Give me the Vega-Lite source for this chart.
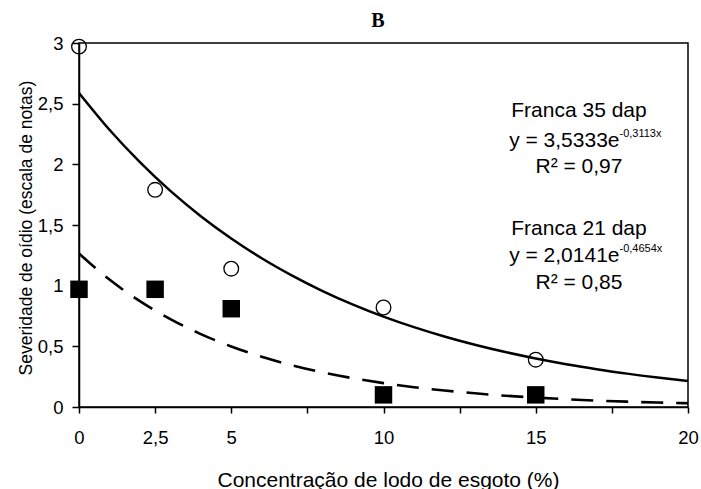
{
  "$schema": "https://vega.github.io/schema/vega-lite/v6.json",
  "width": 609,
  "height": 364,
  "autosize": {"type": "none"},
  "padding": {"left": 79, "top": 43, "right": 13, "bottom": 82},
  "background": "white",
  "config": {
    "view": {"stroke": "#000", "strokeWidth": 1.5},
    "font": "Liberation Sans",
    "axis": {"grid": false, "domainColor": "#000", "domainWidth": 1.5, "tickColor": "#000", "tickWidth": 1.5, "labelColor": "#000", "titleColor": "#000", "labelFont": "Liberation Sans", "titleFont": "Liberation Sans", "titleFontWeight": "normal"}
  },
  "datasets": {
    "pts": [
      {"conc": 0, "sev": 2.97, "serie": "35"},
      {"conc": 2.5, "sev": 1.79, "serie": "35"},
      {"conc": 5, "sev": 1.14, "serie": "35"},
      {"conc": 10, "sev": 0.82, "serie": "35"},
      {"conc": 15, "sev": 0.39, "serie": "35"},
      {"conc": 0, "sev": 0.97, "serie": "21"},
      {"conc": 2.5, "sev": 0.97, "serie": "21"},
      {"conc": 5, "sev": 0.81, "serie": "21"},
      {"conc": 10, "sev": 0.1, "serie": "21"},
      {"conc": 15, "sev": 0.1, "serie": "21"}
    ],
    "curves": [
      {"conc": 0, "sev": 2.588, "serie": "35"},
      {"conc": 1, "sev": 2.285, "serie": "35"},
      {"conc": 2, "sev": 2.018, "serie": "35"},
      {"conc": 3, "sev": 1.781, "serie": "35"},
      {"conc": 4, "sev": 1.573, "serie": "35"},
      {"conc": 5, "sev": 1.389, "serie": "35"},
      {"conc": 6, "sev": 1.226, "serie": "35"},
      {"conc": 7, "sev": 1.083, "serie": "35"},
      {"conc": 8, "sev": 0.956, "serie": "35"},
      {"conc": 9, "sev": 0.844, "serie": "35"},
      {"conc": 10, "sev": 0.745, "serie": "35"},
      {"conc": 11, "sev": 0.658, "serie": "35"},
      {"conc": 12, "sev": 0.581, "serie": "35"},
      {"conc": 13, "sev": 0.513, "serie": "35"},
      {"conc": 14, "sev": 0.453, "serie": "35"},
      {"conc": 15, "sev": 0.4, "serie": "35"},
      {"conc": 16, "sev": 0.353, "serie": "35"},
      {"conc": 17, "sev": 0.312, "serie": "35"},
      {"conc": 18, "sev": 0.275, "serie": "35"},
      {"conc": 19, "sev": 0.243, "serie": "35"},
      {"conc": 20, "sev": 0.215, "serie": "35"},
      {"conc": 0, "sev": 1.265, "serie": "21"},
      {"conc": 1, "sev": 1.05, "serie": "21"},
      {"conc": 2, "sev": 0.872, "serie": "21"},
      {"conc": 3, "sev": 0.724, "serie": "21"},
      {"conc": 4, "sev": 0.601, "serie": "21"},
      {"conc": 5, "sev": 0.499, "serie": "21"},
      {"conc": 6, "sev": 0.414, "serie": "21"},
      {"conc": 7, "sev": 0.344, "serie": "21"},
      {"conc": 8, "sev": 0.285, "serie": "21"},
      {"conc": 9, "sev": 0.237, "serie": "21"},
      {"conc": 10, "sev": 0.197, "serie": "21"},
      {"conc": 11, "sev": 0.163, "serie": "21"},
      {"conc": 12, "sev": 0.136, "serie": "21"},
      {"conc": 13, "sev": 0.113, "serie": "21"},
      {"conc": 14, "sev": 0.093, "serie": "21"},
      {"conc": 15, "sev": 0.078, "serie": "21"},
      {"conc": 16, "sev": 0.064, "serie": "21"},
      {"conc": 17, "sev": 0.053, "serie": "21"},
      {"conc": 18, "sev": 0.044, "serie": "21"},
      {"conc": 19, "sev": 0.037, "serie": "21"},
      {"conc": 20, "sev": 0.031, "serie": "21"}
    ],
    "notes": [
      {"x": 9.82, "y": 3.129, "label": "B", "kind": "t"},
      {"x": 16.42, "y": 2.393, "label": "Franca 35 dap", "kind": "c"},
      {"x": 17.75, "y": 2.143, "label": "y = 3,5333e", "kind": "r"},
      {"x": 17.75, "y": 2.225, "label": "-0,3113x", "kind": "s"},
      {"x": 16.42, "y": 1.929, "label": "R² = 0,97", "kind": "c"},
      {"x": 16.42, "y": 1.418, "label": "Franca 21 dap", "kind": "c"},
      {"x": 17.75, "y": 1.195, "label": "y = 2,0141e", "kind": "r"},
      {"x": 17.75, "y": 1.277, "label": "-0,4654x", "kind": "s"},
      {"x": 16.42, "y": 0.973, "label": "R² = 0,85", "kind": "c"}
    ]
  },
  "layer": [
    {
      "data": {"name": "curves"},
      "transform": [{"filter": "datum.serie == '35'"}],
      "mark": {"type": "line", "color": "#000", "strokeWidth": 2.5, "interpolate": "monotone"},
      "encoding": {
        "x": {"field": "conc", "type": "quantitative", "scale": {"domain": [0, 20], "nice": false},
          "axis": {"values": [0, 2.5, 5, 7.5, 10, 12.5, 15, 17.5, 20], "labelExpr": "indexof([7.5, 12.5, 17.5], datum.value) >= 0 ? '' : replace(format(datum.value, '~g'), '.', ',')", "labelFlush": false, "labelOverlap": false, "labelFontSize": 18.5, "labelBaseline": "alphabetic", "labelPadding": 30, "tickSize": 6, "title": "Concentração de lodo de esgoto (%)", "titleFontSize": 21, "titleX": 309, "titleY": 79, "titleBaseline": "alphabetic", "titleAlign": "center"}},
        "y": {"field": "sev", "type": "quantitative", "scale": {"domain": [0, 3], "nice": false},
          "axis": {"values": [0, 0.5, 1, 1.5, 2, 2.5, 3], "labelExpr": "replace(format(datum.value, '~g'), '.', ',')", "labelFontSize": 18.5, "labelPadding": 9, "tickSize": 7, "labelOverlap": false, "title": "Severidade de oídio (escala de notas)", "titleFontSize": 17.5, "titleX": -48, "titleY": 184.5, "titleAngle": -90, "titleBaseline": "alphabetic", "titleAlign": "center"}}
      }
    },
    {
      "data": {"name": "curves"},
      "transform": [{"filter": "datum.serie == '21'"}],
      "mark": {"type": "line", "color": "#000", "strokeWidth": 2.6, "strokeDash": [22, 13], "interpolate": "monotone"},
      "encoding": {
        "x": {"field": "conc", "type": "quantitative"},
        "y": {"field": "sev", "type": "quantitative"}
      }
    },
    {
      "data": {"name": "pts"},
      "transform": [{"filter": "datum.serie == '35'"}],
      "mark": {"type": "point", "shape": "circle", "filled": false, "stroke": "#000", "strokeWidth": 1.3, "size": 215, "opacity": 1},
      "encoding": {
        "x": {"field": "conc", "type": "quantitative"},
        "y": {"field": "sev", "type": "quantitative"}
      }
    },
    {
      "data": {"name": "pts"},
      "transform": [{"filter": "datum.serie == '21'"}],
      "mark": {"type": "square", "filled": true, "color": "#000", "size": 305, "opacity": 1},
      "encoding": {
        "x": {"field": "conc", "type": "quantitative"},
        "y": {"field": "sev", "type": "quantitative"}
      }
    },
    {
      "data": {"name": "notes"},
      "transform": [{"filter": "datum.kind == 't'"}],
      "mark": {"type": "text", "align": "center", "baseline": "alphabetic", "fontSize": 20, "fontWeight": "bold", "color": "#000", "font": "Liberation Serif", "clip": false},
      "encoding": {
        "x": {"field": "x", "type": "quantitative"},
        "y": {"field": "y", "type": "quantitative"},
        "text": {"field": "label"}
      }
    },
    {
      "data": {"name": "notes"},
      "transform": [{"filter": "datum.kind == 'c'"}],
      "mark": {"type": "text", "align": "center", "baseline": "alphabetic", "fontSize": 21, "color": "#000", "font": "Liberation Sans"},
      "encoding": {
        "x": {"field": "x", "type": "quantitative"},
        "y": {"field": "y", "type": "quantitative"},
        "text": {"field": "label"}
      }
    },
    {
      "data": {"name": "notes"},
      "transform": [{"filter": "datum.kind == 'r'"}],
      "mark": {"type": "text", "align": "right", "baseline": "alphabetic", "fontSize": 21, "color": "#000", "font": "Liberation Sans"},
      "encoding": {
        "x": {"field": "x", "type": "quantitative"},
        "y": {"field": "y", "type": "quantitative"},
        "text": {"field": "label"}
      }
    },
    {
      "data": {"name": "notes"},
      "transform": [{"filter": "datum.kind == 's'"}],
      "mark": {"type": "text", "align": "left", "baseline": "alphabetic", "fontSize": 11, "color": "#000", "font": "Liberation Sans"},
      "encoding": {
        "x": {"field": "x", "type": "quantitative"},
        "y": {"field": "y", "type": "quantitative"},
        "text": {"field": "label"}
      }
    }
  ]
}
